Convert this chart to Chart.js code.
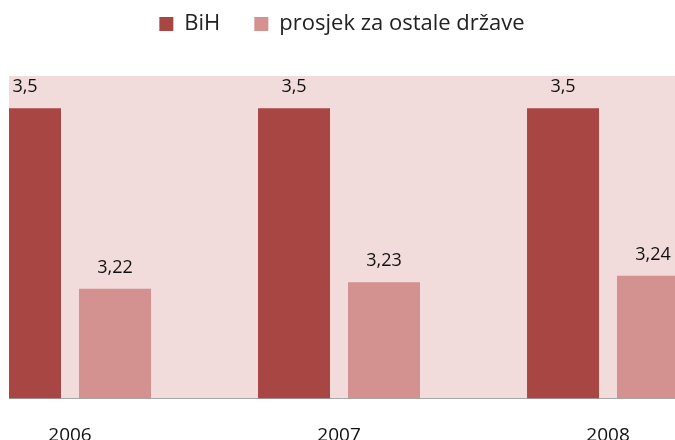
<!DOCTYPE html>
<html>
<head>
<meta charset="utf-8">
<script src="https://cdn.jsdelivr.net/npm/chart.js@4/dist/chart.umd.min.js"></script>
<style>
    html, body { margin: 0; padding: 0; background: #fff; overflow: hidden; }
    #wrap { position: relative; width: 675px; height: 473px; }
</style>
</head>
<body>
<div id="wrap"><canvas id="chart"></canvas></div>
<script>
const years = ["2006", "2007", "2008"];
const bihValues = [3.5, 3.5, 3.5];
const otherValues = [3.22, 3.23, 3.24];
const seriesNames = ["BiH", "prosjek za ostale države"];

(function () {
    const font = "'Open Sans', 'Noto Sans', sans-serif";

    // plot area background
    const plotBg = {
        id: "plotBg",
        beforeDraw(chart) {
            const { ctx, chartArea: a } = chart;
            ctx.save();
            ctx.fillStyle = "#f2dcdb";
            ctx.fillRect(a.left, a.top, a.right - a.left, a.bottom - a.top);
            ctx.restore();
        },
    };

    // value labels above bars, decimal comma
    const valueLabels = {
        id: "valueLabels",
        afterDatasetsDraw(chart) {
            const ctx = chart.ctx;
            ctx.save();
            ctx.font = "18px " + font;
            ctx.fillStyle = "#111";
            ctx.textAlign = "center";
            ctx.textBaseline = "alphabetic";
            chart.data.datasets.forEach((ds, i) => {
                chart.getDatasetMeta(i).data.forEach((bar, j) => {
                    const txt = String(ds.data[j].y).replace(".", ",");
                    ctx.fillText(txt, bar.x, bar.y - 16);
                });
            });
            ctx.restore();
        },
    };

    // extra room under the legend
    const legendSpace = {
        id: "legendSpace",
        beforeInit(chart) {
            const fit = chart.legend.fit;
            chart.legend.fit = function () {
                fit.bind(chart.legend)();
                this.height = 97;
            };
        },
    };

    const toPoints = (vals) => vals.map((v, i) => ({ x: i, y: v }));

    new Chart(document.getElementById("chart"), {
        type: "bar",
        data: {
            datasets: [
                {
                    label: seriesNames[0],
                    data: toPoints(bihValues),
                    backgroundColor: "#a84644",
                    borderWidth: 0,
                    clip: 0,
                },
                {
                    label: seriesNames[1],
                    data: toPoints(otherValues),
                    backgroundColor: "#d39190",
                    borderWidth: 0,
                    clip: 0,
                },
            ],
        },
        options: {
            responsive: true,
            maintainAspectRatio: false,
            animation: false,
            devicePixelRatio: 1,
            categoryPercentage: 0.669,
            barPercentage: 0.8,
            layout: { padding: { left: 9, right: 0, top: -21, bottom: 0 } },
            plugins: {
                legend: {
                    position: "top",
                    labels: {
                        boxWidth: 14,
                        boxHeight: 14,
                        padding: 34,
                        color: "#222",
                        font: { family: font, size: 22 },
                    },
                },
                tooltip: { enabled: false },
            },
            scales: {
                x: {
                    type: "linear",
                    offset: false,
                    min: -0.2268,
                    max: 2.249,
                    afterBuildTicks(scale) {
                        scale.ticks = years.map((_, i) => ({ value: i }));
                    },
                    ticks: {
                        autoSkip: false,
                        maxRotation: 0,
                        padding: 26,
                        color: "#111",
                        font: { family: font, size: 19 },
                        callback: (v) => years[v],
                    },
                    grid: { display: false, drawTicks: false, tickLength: 0 },
                    border: { display: true, color: "#a6a6a6", width: 1 },
                },
                y: {
                    display: false,
                    min: 3.05,
                    max: 3.55,
                },
            },
        },
        plugins: [plotBg, valueLabels, legendSpace],
    });
})();
</script>
</body>
</html>
